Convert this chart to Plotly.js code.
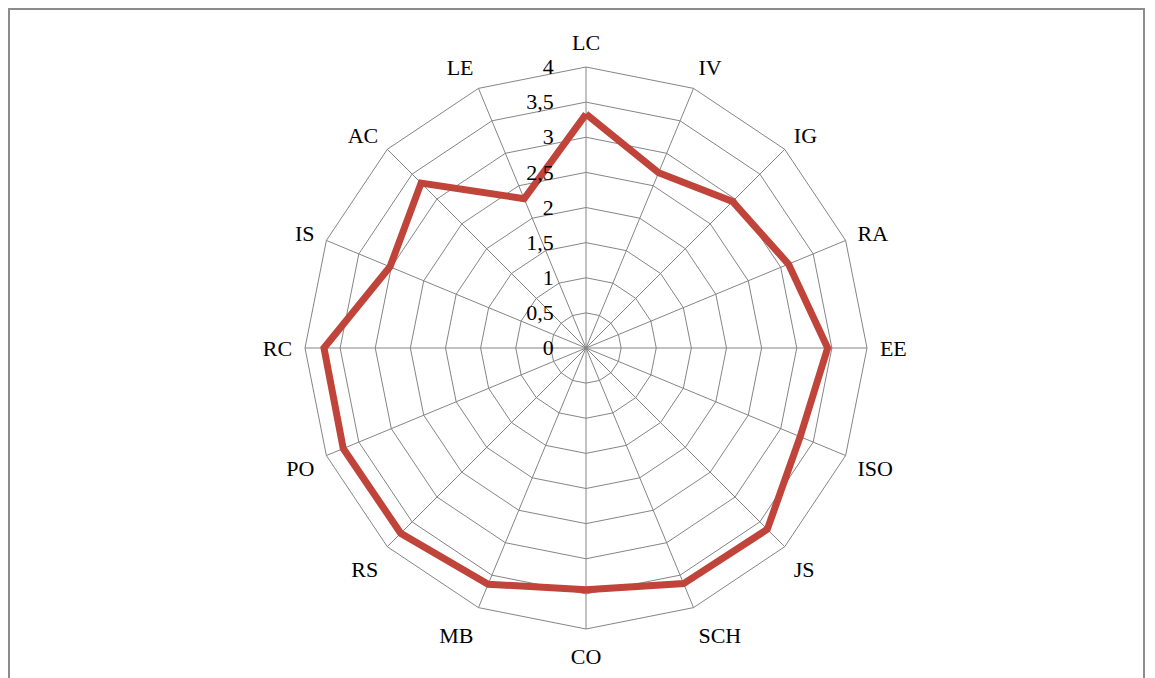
<!DOCTYPE html>
<html>
<head>
<meta charset="utf-8">
<script src="https://cdn.plot.ly/plotly-3.0.1.min.js"></script>
<style>
html,body{margin:0;padding:0;background:#fff;}
#frame{position:absolute;left:8px;top:8px;width:1137px;height:700px;border:2px solid #8c8c8c;box-sizing:border-box;}
#chart{position:absolute;left:0;top:0;width:1155px;height:678px;}
</style>
</head>
<body>
<div id="frame"></div>
<div id="chart"></div>
<script>
const categories = ["LC","IV","IG","RA","EE","ISO","JS","SCH","CO","MB","RS","PO","RC","IS","AC","LE"];
const values = [3.33, 2.7, 2.95, 3.12, 3.44, 3.3, 3.65, 3.63, 3.44, 3.64, 3.73, 3.74, 3.73, 3.02, 3.32, 2.3];
const tickValues = [0, 0.5, 1, 1.5, 2, 2.5, 3, 3.5, 4];

const W = 1155, H = 678;
const cx = 586, cy = 348, R = 281;

const trace = {
  type: 'scatterpolar',
  r: values.concat([values[0]]),
  theta: categories.concat([categories[0]]),
  mode: 'lines',
  line: {color: '#c0443a', width: 7},
  hoverinfo: 'skip'
};

const layout = {
  width: W, height: H,
  margin: {l: 0, r: 0, t: 0, b: 0},
  paper_bgcolor: 'rgba(0,0,0,0)',
  plot_bgcolor: 'rgba(0,0,0,0)',
  showlegend: false,
  separators: ', ',
  font: {family: '"Liberation Serif", "DejaVu Serif", serif', color: '#000', size: 22},
  polar: {
    domain: {x: [(cx - R) / W, (cx + R) / W], y: [(H - cy - R) / H, (H - cy + R) / H]},
    bgcolor: 'rgba(0,0,0,0)',
    gridshape: 'linear',
    radialaxis: {
      range: [0, 4],
      tickvals: tickValues,
      ticktext: tickValues.map(v => String(v).replace('.', ',')),
      angle: 90,
      tickangle: 90,
      side: 'counterclockwise',
      showline: false,
      ticks: 'outside',
      ticklen: 24,
      tickcolor: 'rgba(0,0,0,0)',
      gridcolor: '#858585',
      gridwidth: 1,
      tickfont: {size: 22, color: '#000'}
    },
    angularaxis: {
      direction: 'clockwise',
      rotation: 90,
      categoryarray: categories,
      showline: true,
      linecolor: '#858585',
      linewidth: 1,
      gridcolor: '#858585',
      gridwidth: 1,
      ticks: 'outside',
      ticklen: 8,
      tickcolor: 'rgba(0,0,0,0)',
      tickfont: {size: 22, color: '#000'}
    }
  }
};

Plotly.newPlot('chart', [trace], layout, {displayModeBar: false, staticPlot: true});
</script>
</body>
</html>
